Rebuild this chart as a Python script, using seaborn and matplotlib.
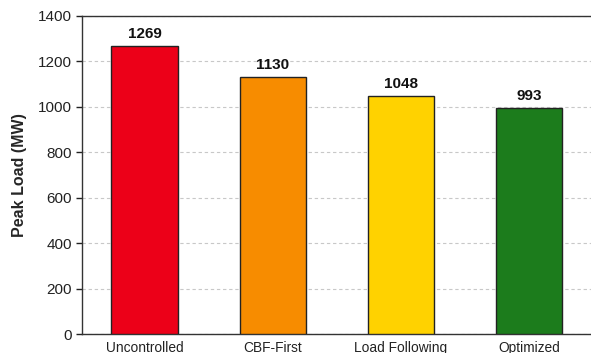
import matplotlib
matplotlib.use("Agg")
import matplotlib.pyplot as plt
import seaborn as sns
import pandas as pd

categories = ["Uncontrolled", "CBF-First", "Load Following", "Optimized"]
peak_load = [1269, 1130, 1048, 993]
bar_colors = ["#EC0018", "#F78C00", "#FFD200", "#1C7C1C"]
y_ticks = [0, 200, 400, 600, 800, 1000, 1200, 1400]

sns.set_theme(style="white")
plt.rcParams["font.family"] = ["Liberation Sans", "DejaVu Sans"]

df = pd.DataFrame({"strategy": categories, "load": peak_load})

fig = plt.figure(figsize=(5.91, 3.53), dpi=100)
ax = fig.add_axes([0.1387, 0.0538, 0.8625, 0.9009])

sns.barplot(data=df, x="strategy", y="load", hue="strategy",
            palette=bar_colors, legend=False, width=0.52, saturation=1,
            edgecolor="#222222", linewidth=1.0, ax=ax, zorder=3)

for i, v in enumerate(peak_load):
    ax.text(i, v + 22, f"{v}", ha="center", va="bottom",
            fontsize=11, fontweight="bold", color="#111111")

ax.set_ylim(0, 1400)
ax.set_xlim(-0.49, 3.49)
ax.set_yticks(y_ticks)
ax.set_yticklabels([str(t) for t in y_ticks], fontsize=11, color="#222222")
ax.tick_params(axis="y", length=4, width=1, color="#222222", direction="out", left=True, pad=3)
ax.tick_params(axis="x", length=0, labelsize=9.9, labelcolor="#222222", pad=5)
ax.set_xlabel("")
ax.set_ylabel("Peak Load (MW)", fontsize=11.5, fontweight="bold", labelpad=8)

ax.yaxis.grid(True, linestyle=(0, (3, 2.5)), color="#C8C8C8", linewidth=0.8, zorder=0)
ax.set_axisbelow(True)

for side in ["left", "top", "bottom"]:
    ax.spines[side].set_color("#333333")
    ax.spines[side].set_linewidth(1.0)
ax.spines["right"].set_visible(False)

fig.savefig("out.png", dpi=100)
